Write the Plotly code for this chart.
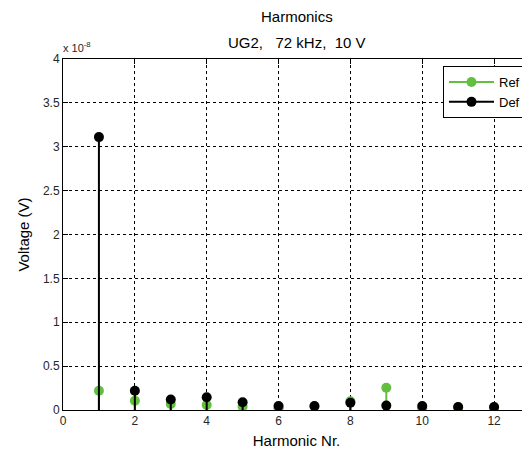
import plotly.graph_objects as go

harmonics = [1, 2, 3, 4, 5, 6, 7, 8, 9, 10, 11, 12]
ref_volts = [0.22e-8, 0.106e-8, 0.068e-8, 0.057e-8, 0.038e-8, 0.02e-8, 0.04e-8, 0.099e-8, 0.254e-8, 0.02e-8, 0.03e-8, 0.03e-8]
def_volts = [3.11e-8, 0.22e-8, 0.12e-8, 0.145e-8, 0.088e-8, 0.046e-8, 0.046e-8, 0.083e-8, 0.05e-8, 0.046e-8, 0.034e-8, 0.034e-8]
y_tickvals = [0, 0.5e-8, 1e-8, 1.5e-8, 2e-8, 2.5e-8, 3e-8, 3.5e-8, 4e-8]
y_ticktext = ["0", "0.5", "1", "1.5", "2", "2.5", "3", "3.5", "4"]
x_tickvals = [0, 2, 4, 6, 8, 10, 12]
title_lines = ["Harmonics", "UG2,   72 kHz,  10 V"]

FONT = "Liberation Sans, Arial, sans-serif"
fig = go.Figure()

OFF = 8  # page body margin
W, HT = 530 - OFF, 460 - OFF
LEFT, RIGHT = 63 - OFF, 530 - OFF
TOP, BOT = 59 - OFF, 410 - OFF
PW = RIGHT - LEFT
PH = BOT - TOP


def py(page_pix):
    return (BOT - (page_pix - OFF)) / PH


def px(page_pix):
    return ((page_pix - OFF) - LEFT) / PW


def add_stem(xs, ys, color, name):
    sx, sy, mx, my = [], [], [], []
    for x, y in zip(xs, ys):
        sx += [x, x, None]
        sy += [0, y, None]
        mx += [x, None]
        my += [y, None]
    fig.add_trace(go.Scatter(x=sx, y=sy, mode="lines", line=dict(color=color, width=2),
                             showlegend=False, hoverinfo="skip"))
    fig.add_trace(go.Scatter(x=mx, y=my, mode="lines+markers", name=name,
                             line=dict(color=color, width=2),
                             marker=dict(color=color, size=10), connectgaps=False))


add_stem(harmonics, ref_volts, "#62bf40", "Ref")
add_stem(harmonics, def_volts, "#000000", "Def")

axis_common = dict(
    showline=True, linecolor="black", linewidth=1, mirror="ticks",
    ticks="inside", ticklen=5, tickcolor="black", automargin=False,
    showgrid=True, gridcolor="black", gridwidth=1, griddash="3px,3px",
    zeroline=False, tickfont=dict(family=FONT, size=12, color="#262626"),
)

annotations = [
    dict(text=title_lines[0], xref="paper", yref="paper", x=px(297), y=py(17), xanchor="center",
         yanchor="middle", showarrow=False, font=dict(family=FONT, size=15, color="#000000")),
    dict(text=title_lines[1], xref="paper", yref="paper", x=px(297), y=py(42), xanchor="center",
         yanchor="middle", showarrow=False, font=dict(family=FONT, size=15, color="#000000")),
    dict(text="x 10<sup>-8</sup>", xref="paper", yref="paper", x=px(61), y=py(56),
         xanchor="left", yanchor="bottom", showarrow=False,
         font=dict(family=FONT, size=11, color="#262626")),
]

fig.update_layout(
    width=W, height=HT,
    margin=dict(l=LEFT, r=W - RIGHT, t=TOP, b=HT - BOT, autoexpand=False),
    paper_bgcolor="white", plot_bgcolor="white",
    font=dict(family=FONT, color="#000000"),
    xaxis=dict(range=[0, 13], tickvals=x_tickvals,
               title=dict(text="Harmonic Nr.", font=dict(family=FONT, size=15, color="#000000"), standoff=8),
               **axis_common),
    yaxis=dict(range=[0, 4e-8], tickvals=y_tickvals, ticktext=y_ticktext,
               title=dict(text="Voltage (V)", font=dict(family=FONT, size=15, color="#000000"), standoff=9),
               **axis_common),
    legend=dict(x=px(526), xanchor="right", y=py(66), yanchor="top",
                bgcolor="white", bordercolor="black", borderwidth=1, itemwidth=45,
                font=dict(family=FONT, size=13, color="#000000"), tracegroupgap=0),
    showlegend=True,
    annotations=annotations,
)

fig.write_html("out.html")
